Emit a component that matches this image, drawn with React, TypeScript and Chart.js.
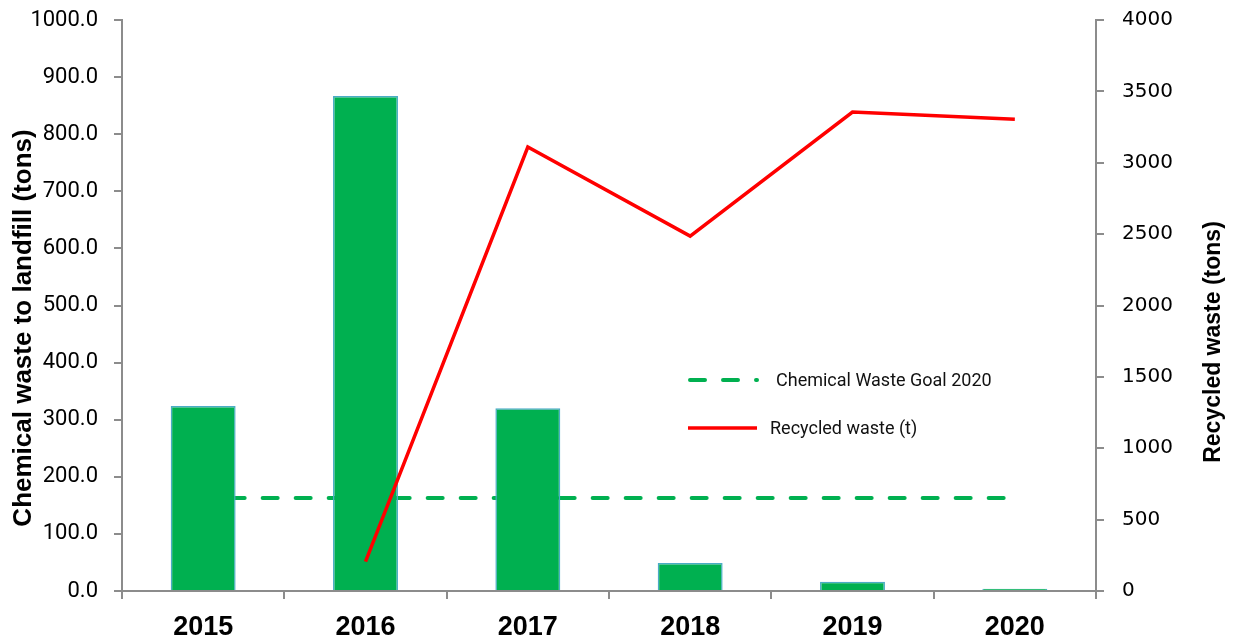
import React, { useEffect, useRef } from "react";
import { Chart, registerables } from "chart.js";

Chart.register(...registerables);

const years = ["2015", "2016", "2017", "2018", "2019", "2020"];
const chemicalWaste = [324, 867, 320, 49, 16, 4];
const goal2020 = [163, 163, 163, 163, 163, 163];
const recycledWaste = [null, 205, 3110, 2486, 3355, 3305];
const leftTitle = "Chemical waste to landfill (tons)";
const rightTitle = "Recycled waste (tons)";
const goalLabel = "Chemical Waste Goal 2020";
const recycledLabel = "Recycled waste (t)";

const GREEN = "#00b050";
const RED = "#ff0000";
const AXIS = "#8c8c8c";

const decorPlugin = {
  id: "decor",
  afterDraw(chart: any) {
    const ctx = chart.ctx;
    ctx.save();
    ctx.fillStyle = "#000";
    ctx.textAlign = "center";
    ctx.textBaseline = "middle";
    ctx.font = "bold 26px 'Liberation Sans', Arial, sans-serif";
    ctx.save();
    ctx.translate(24, 328);
    ctx.rotate(-Math.PI / 2);
    ctx.fillText(leftTitle, 0, 0);
    ctx.restore();
    ctx.font = "bold 23px 'Liberation Sans', Arial, sans-serif";
    ctx.save();
    ctx.translate(1214, 342);
    ctx.rotate(-Math.PI / 2);
    ctx.fillText(rightTitle, 0, 0);
    ctx.restore();
    // legend
    ctx.lineCap = "round";
    ctx.strokeStyle = GREEN;
    ctx.lineWidth = 4;
    ctx.setLineDash([15, 18]);
    ctx.beginPath();
    ctx.moveTo(690, 380);
    ctx.lineTo(757, 380);
    ctx.stroke();
    ctx.setLineDash([]);
    ctx.lineCap = "butt";
    ctx.strokeStyle = RED;
    ctx.lineWidth = 3.5;
    ctx.beginPath();
    ctx.moveTo(688, 428);
    ctx.lineTo(757, 428);
    ctx.stroke();
    ctx.fillStyle = "#111";
    ctx.font = "18px Roboto, 'Liberation Sans', sans-serif";
    ctx.textAlign = "left";
    ctx.fillText(goalLabel, 776, 381);
    ctx.fillText(recycledLabel, 770, 429);
    ctx.restore();
  },
};

export default function App() {
  const ref = useRef<HTMLCanvasElement>(null);
  useEffect(() => {
    const chart = new Chart(ref.current!, {
      type: "bar",
      data: {
        labels: years,
        datasets: [
          {
            type: "bar",
            label: "Chemical waste to landfill",
            data: chemicalWaste,
            backgroundColor: GREEN,
            borderColor: "#4bacc6",
            borderWidth: 1.5,
            barPercentage: 0.4,
            categoryPercentage: 1,
            yAxisID: "y",
            order: 1,
          },
          {
            type: "line",
            label: goalLabel,
            data: goal2020,
            borderColor: GREEN,
            borderWidth: 4,
            borderDash: [15, 18],
            borderDashOffset: 6.5,
            borderCapStyle: "round",
            pointRadius: 0,
            fill: false,
            yAxisID: "y",
            order: 2,
          },
          {
            type: "line",
            label: recycledLabel,
            data: recycledWaste as any,
            borderColor: RED,
            borderWidth: 3.5,
            pointRadius: 0,
            fill: false,
            tension: 0,
            yAxisID: "y1",
            order: 0,
          },
        ],
      },
      options: {
        animation: false,
        responsive: false,
        maintainAspectRatio: false,
        layout: { padding: { top: 20, left: 0, right: 0, bottom: 0 } },
        plugins: { legend: { display: false }, tooltip: { enabled: false } },
        scales: {
          x: {
            offset: true,
            grid: {
              offset: true,
              drawOnChartArea: false,
              drawTicks: true,
              tickLength: 8,
              color: AXIS,
              lineWidth: 2,
            },
            border: { color: AXIS, width: 2 },
            ticks: {
              color: "#000",
              padding: 12,
              font: { family: "'Liberation Sans', Arial, sans-serif", size: 27, weight: "bold" },
            },
            afterFit: (s: any) => {
              s.height = 45;
              s.paddingLeft = 0;
              s.paddingRight = 0;
            },
          },
          y: {
            position: "left",
            min: 0,
            max: 1000,
            ticks: {
              stepSize: 100,
              color: "#000",
              padding: 16,
              font: { family: "Roboto, sans-serif", size: 22 },
              callback: (v: any) => Number(v).toFixed(1),
            },
            grid: {
              drawOnChartArea: false,
              drawTicks: true,
              tickLength: 8,
              color: AXIS,
              lineWidth: 2,
            },
            border: { color: AXIS, width: 2 },
            afterFit: (s: any) => {
              s.width = 122;
              s.paddingTop = 0;
              s.paddingBottom = 0;
            },
          },
          y1: {
            position: "right",
            min: 0,
            max: 4000,
            ticks: {
              stepSize: 500,
              color: "#000",
              padding: 18,
              font: { family: "'DejaVu Sans', sans-serif", size: 20 },
              callback: (v: any) => String(v),
            },
            grid: {
              drawOnChartArea: false,
              drawTicks: true,
              tickLength: 8,
              color: AXIS,
              lineWidth: 2,
            },
            border: { color: AXIS, width: 2 },
            afterFit: (s: any) => {
              s.width = 144;
              s.paddingTop = 0;
              s.paddingBottom = 0;
            },
          },
        },
      },
      plugins: [decorPlugin],
    } as any);
    return () => chart.destroy();
  }, []);
  return (
    <div style={{ position: "fixed", left: 0, top: 0, width: 1240, height: 636, background: "#fff" }}>
      <canvas ref={ref} width={1240} height={636} style={{ width: 1240, height: 636 }} />
    </div>
  );
}
